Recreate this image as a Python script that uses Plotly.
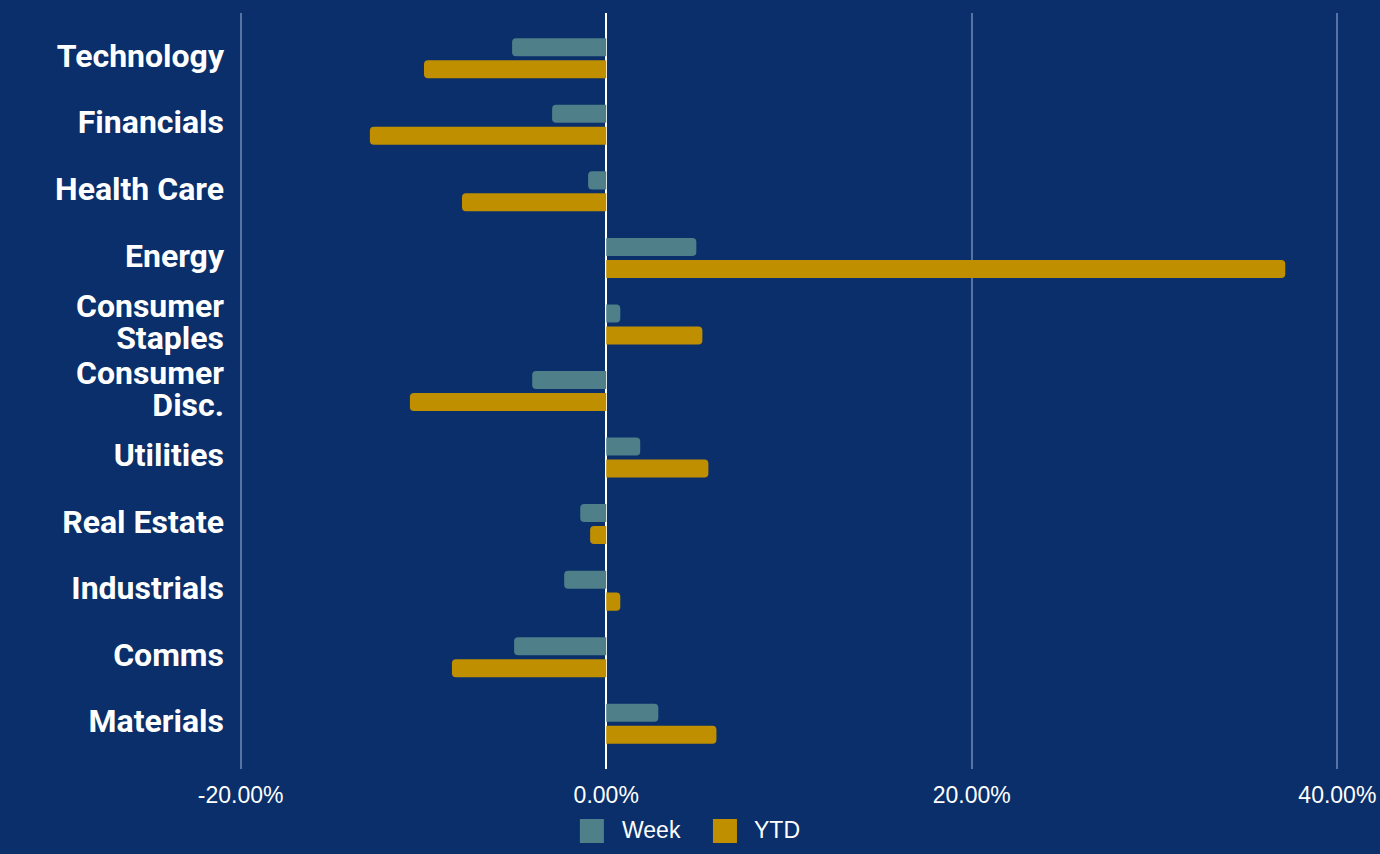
import plotly.graph_objects as go

categories = ["Technology", "Financials", "Health Care", "Energy", "Consumer<br>Staples",
              "Consumer<br>Disc.", "Utilities", "Real Estate", "Industrials", "Comms", "Materials"]
week = [-0.0515, -0.0296, -0.0099, 0.0493, 0.0077, -0.0405, 0.0186, -0.0142, -0.0230, -0.0504, 0.0285]
ytd = [-0.0997, -0.1293, -0.0789, 0.3715, 0.0526, -0.1074, 0.0559, -0.0088, 0.0077, -0.0844, 0.0603]
x_ticks = [-0.2, 0.0, 0.2, 0.4]
x_tick_labels = ["-20.00%", "0.00%", "20.00%", "40.00%"]
series_names = ["Week", "YTD"]

BG = "#0A2F6A"
WEEK_C = "#4F7F88"
YTD_C = "#C08F00"
GRID_C = "#5573A3"

# tight line spacing for wrapped labels: small base size, larger inner span
y_tick_text = ["<span style='font-size:32px'>" + c.replace("<br>", "</span><br><span style='font-size:32px'>") + "</span>"
               for c in categories]

fig = go.Figure()
fig.add_trace(go.Bar(y=categories, x=week, orientation="h", name=series_names[0],
                     marker=dict(color=WEEK_C, line=dict(width=0)), showlegend=False))
fig.add_trace(go.Bar(y=categories, x=ytd, orientation="h", name=series_names[1],
                     marker=dict(color=YTD_C, line=dict(width=0)), showlegend=False))

W, H = 1380, 854
XPAD = 0.002
x_lo, x_hi = -0.2 - XPAD, 0.4 + XPAD
ppu = (1337 - 241) / 0.6
L = 241 - XPAD * ppu
pw = (x_hi - x_lo) * ppu
R = W - L - pw
T, B = 13, 85
ph = H - T - B

def px_x(x):
    return (x - L) / pw

def px_y(y):
    return (H - B - y) / ph

shapes = []
annotations = []
for nm, c, x0, tx in [(series_names[0], WEEK_C, 580, 620), (series_names[1], YTD_C, 713, 752)]:
    shapes.append(dict(type="rect", xref="paper", yref="paper",
                       x0=px_x(x0), x1=px_x(x0 + 24), y0=px_y(819), y1=px_y(843),
                       fillcolor=c, line=dict(width=0)))
    annotations.append(dict(xref="paper", yref="paper", x=px_x(tx), y=px_y(830),
                            xanchor="left", yanchor="middle", showarrow=False, text=nm,
                            font=dict(size=23, family="Liberation Sans", color="white")))

pad = 0.18
fig.update_layout(
    width=W, height=H,
    paper_bgcolor=BG, plot_bgcolor=BG,
    margin=dict(l=L, r=R, t=T, b=B, autoexpand=False),
    barmode="group", bargap=0.34, bargroupgap=0.18,
    barcornerradius=4,
    showlegend=False,
    font=dict(family="Roboto", color="white"),
    xaxis=dict(range=[x_lo, x_hi], tickvals=x_ticks, ticktext=x_tick_labels,
               showgrid=True, gridcolor=GRID_C, gridwidth=2,
               zeroline=True, zerolinecolor="white", zerolinewidth=2,
               tickfont=dict(size=23, family="Liberation Sans", color="white"),
               ticks="", ticklabelstandoff=10, showline=False, automargin=False),
    yaxis=dict(type="category", range=[len(categories) - 0.5 + pad, -0.5 - pad],
               tickvals=categories, ticktext=y_tick_text,
               showgrid=False, zeroline=False, ticks="", automargin=False,
               ticklabelstandoff=int(round(241 - 225 - XPAD * ppu)),
               tickfont=dict(size=24.6, family="Roboto", color="white", weight="bold")),
    shapes=shapes,
    annotations=annotations,
)
fig.write_html("out.html", config={"displayModeBar": False},
               post_script="document.body.style.margin='0';document.body.style.overflow='hidden';")
